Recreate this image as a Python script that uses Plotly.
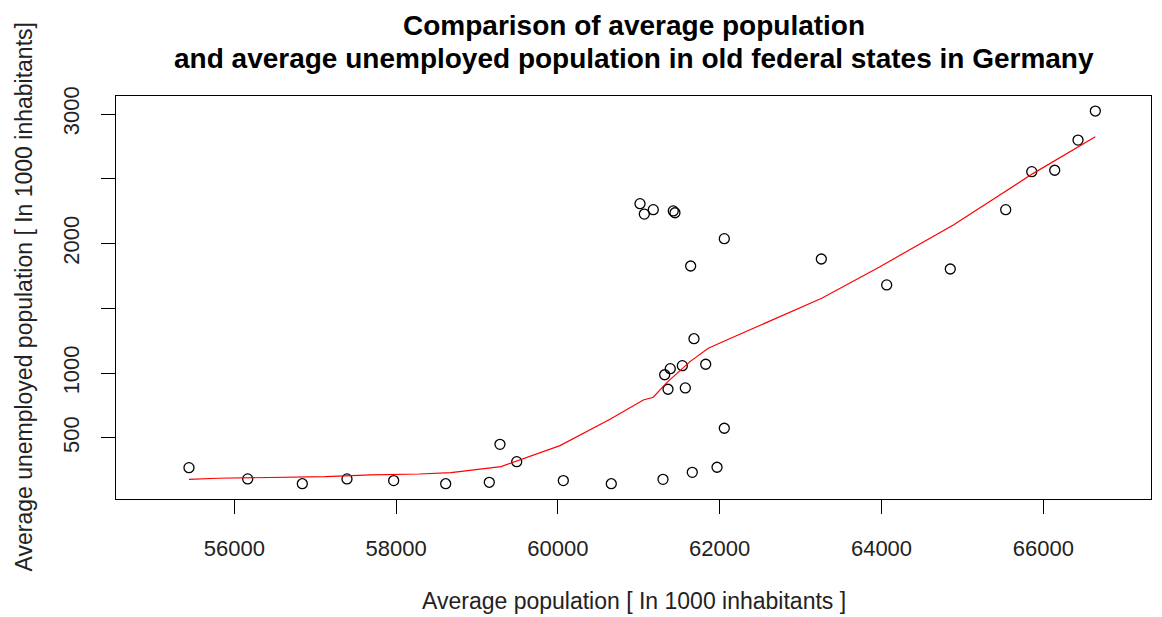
import plotly.graph_objects as go

# Data
avg_population = [55440, 56166, 56841, 57393, 57970, 58613, 59152, 59284, 59491,
                  60067, 60660, 61299, 61661, 61967, 62057,
                  61015, 61068, 61179, 61426, 61447, 62057, 61641,
                  61682, 61538, 61389, 61320, 61827, 61361, 61575,
                  63256, 64064, 64850, 65535, 65857, 66141, 66429, 66643]
avg_unemployed = [271, 184, 147, 184, 171, 147, 158, 451, 317,
                  171, 147, 181, 235, 274, 575,
                  2308, 2228, 2262, 2252, 2238, 2038, 1827,
                  1266, 1058, 1035, 988, 1069, 876, 886,
                  1881, 1681, 1804, 2262, 2555, 2566, 2799, 3023]

# Smoothed (lowess) curve
fit_x = [55440, 55795, 57125, 57690, 58287, 58679, 59297, 59491, 60026, 60644,
         61056, 61179, 61345, 61633, 61859, 62087, 62745, 63261, 63981, 64888,
         65876, 66643]
fit_y = [181, 189, 201, 215, 222, 232, 279, 323, 441, 644,
         793, 814, 927, 1089, 1192, 1256, 1436, 1578, 1822, 2144,
         2542, 2825]

x_ticks = [56000, 58000, 60000, 62000, 64000, 66000]
x_tick_text = ["56000", "58000", "60000", "62000", "64000", "66000"]
y_ticks = [500, 1000, 1500, 2000, 2500, 3000]
y_tick_text = ["500", "1000", "", "2000", "", "3000"]

title_line1 = "Comparison of average population"
title_line2 = "and average unemployed population in old federal states in Germany"
x_title = "Average population [ In 1000 inhabitants ]"
y_title = "Average unemployed population [ In 1000 inhabitants]"

FONT = "Liberation Sans, Arial, sans-serif"
W, H = 1154, 609          # page body has an 8px margin
L, R, T, B = 108, 11, 88, 118
PW, PH = W - L - R, H - T - B

fig = go.Figure()
fig.add_trace(go.Scatter(
    x=avg_population, y=avg_unemployed, mode="markers",
    marker=dict(symbol="circle-open", size=10, color="black", line=dict(width=1.3, color="black")),
    showlegend=False, hoverinfo="x+y"))
fig.add_trace(go.Scatter(
    x=fit_x, y=fit_y, mode="lines",
    line=dict(color="red", width=1.2),
    showlegend=False))

fig.update_layout(
    width=W, height=H,
    paper_bgcolor="white", plot_bgcolor="white",
    margin=dict(l=L, r=R, t=T, b=B),
    font=dict(family=FONT, size=22, color="#222222"),
    xaxis=dict(range=[54538, 67331], tickmode="array", tickvals=x_ticks, ticktext=x_tick_text,
               ticks="outside", ticklen=14, tickwidth=1, tickcolor="black",
               ticklabelstandoff=16,
               showline=True, linecolor="black", linewidth=1, mirror=True,
               showgrid=False, zeroline=False, automargin=False),
    yaxis=dict(range=[29, 3139], tickmode="array", tickvals=y_ticks, ticktext=y_tick_text,
               tickangle=-90, ticklabelstandoff=13,
               ticks="outside", ticklen=14, tickwidth=1, tickcolor="black",
               showline=True, linecolor="black", linewidth=1, mirror=True,
               showgrid=False, zeroline=False, automargin=False),
)

fig.add_annotation(text="<b>" + title_line1 + "</b>", xref="paper", yref="paper",
                   x=0.5, y=1.0, yshift=71, showarrow=False,
                   font=dict(family=FONT, size=28, color="black"), yanchor="middle")
fig.add_annotation(text="<b>" + title_line2 + "</b>", xref="paper", yref="paper",
                   x=0.5, y=1.0, yshift=38, showarrow=False,
                   font=dict(family=FONT, size=28, color="black"), yanchor="middle")
fig.add_annotation(text=x_title, xref="paper", yref="paper",
                   x=0.5, y=0, yshift=-(H - 1 - (T + PH)), showarrow=False,
                   font=dict(family=FONT, size=23, color="#222222"), yanchor="bottom")
fig.add_annotation(text=y_title, xref="paper", yref="paper",
                   x=0, xshift=-(L - 15), y=0.5, showarrow=False, textangle=-90,
                   font=dict(family=FONT, size=23, color="#222222"),
                   xanchor="center", yanchor="middle")

fig.write_html("out.html")
